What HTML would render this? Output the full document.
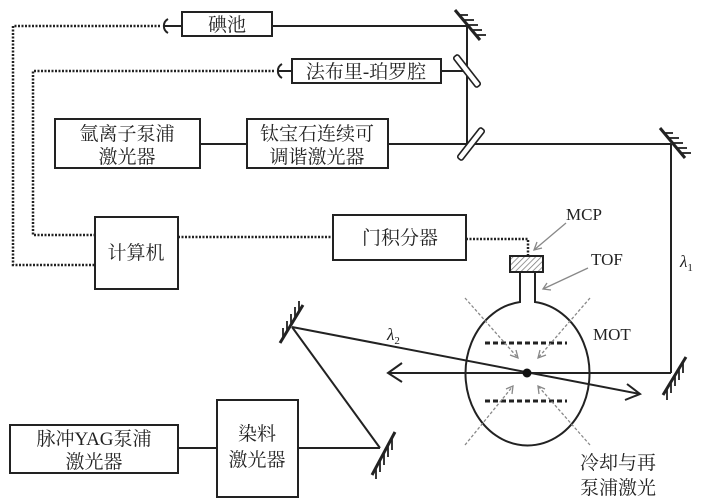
<!DOCTYPE html>
<html><head><meta charset="utf-8"><style>
html,body{margin:0;padding:0;background:#fff;}
svg{display:block;}
text{font-family:"Liberation Serif","Noto Serif CJK SC","Noto Sans CJK SC",serif;fill:#222;}
.c{font-size:19px;}
</style></head><body>
<svg width="707" height="502" viewBox="0 0 707 502" xmlns="http://www.w3.org/2000/svg">
<defs>
<pattern id="h" width="4" height="4" patternUnits="userSpaceOnUse" patternTransform="rotate(45)"><line x1="0" y1="0" x2="0" y2="4" stroke="#777" stroke-width="1.5"/></pattern>
</defs>
<g stroke="#222" stroke-width="2" fill="none">
<!-- dotted -->
<g stroke-dasharray="2,1.5" stroke-width="2.5">
<polyline points="160,26 13,26 13,265 95,265"/>
<polyline points="274,71 33,71 33,235 95,235"/>
<polyline points="178,237 333,237"/>
<polyline points="466,239 528,239 528,256"/>
</g>
<!-- cups -->
<path d="M168,19 A8,8 0 0 0 168,33"/><line x1="164" y1="26" x2="182" y2="26"/>
<path d="M282,64 A8,8 0 0 0 282,78"/><line x1="278" y1="71" x2="292" y2="71"/>
<!-- boxes -->
<rect x="182" y="12" width="90" height="24"/>
<rect x="292" y="59" width="149" height="24"/>
<rect x="55" y="119" width="145" height="49"/>
<rect x="247" y="119" width="141" height="49"/>
<rect x="95" y="217" width="83" height="72"/>
<rect x="333" y="215" width="133" height="45"/>
<rect x="10" y="425" width="168" height="48"/>
<rect x="217" y="400" width="81" height="97"/>
<!-- beams -->
<line x1="272" y1="26" x2="467" y2="26"/>
<line x1="441" y1="71" x2="467" y2="71"/>
<line x1="467" y1="26" x2="467" y2="144"/>
<line x1="200" y1="144" x2="247" y2="144"/>
<line x1="388" y1="144" x2="671" y2="144"/>
<line x1="671" y1="144" x2="671" y2="373"/>
<line x1="178" y1="448" x2="217" y2="448"/>
<line x1="298" y1="448" x2="380" y2="448"/>
<line x1="380" y1="448" x2="292" y2="327"/>
<line x1="292" y1="327" x2="640" y2="394"/>
<polyline points="627,384 640,394 625,400"/>
<line x1="671" y1="373" x2="388" y2="373"/>
<polyline points="402,363 388,373 402,382"/>
<!-- mirrors top -->
<line x1="455" y1="10" x2="480" y2="40" stroke-width="3"/>
<g stroke-width="1.8"><line x1="459" y1="15" x2="468" y2="15"/><line x1="463" y1="20" x2="474" y2="20"/><line x1="467" y1="25" x2="478" y2="25"/><line x1="471" y1="30" x2="482" y2="30"/><line x1="475" y1="35" x2="486" y2="35"/></g>
<line x1="660" y1="128" x2="685" y2="158" stroke-width="3"/>
<g stroke-width="1.8"><line x1="664" y1="133" x2="673" y2="133"/><line x1="668" y1="138" x2="679" y2="138"/><line x1="672" y1="143" x2="683" y2="143"/><line x1="676" y1="148" x2="687" y2="148"/><line x1="680" y1="153" x2="691" y2="153"/></g>
<!-- beam splitters -->
<rect x="-3" y="-19" width="6" height="38" rx="2" transform="translate(467,71) rotate(-38)" fill="#fff" stroke-width="1.6"/>
<rect x="-3" y="-19" width="6" height="38" rx="2" transform="translate(471,144) rotate(38)" fill="#fff" stroke-width="1.6"/>
<!-- lower mirrors -->
<line x1="280" y1="343" x2="303" y2="305" stroke-width="3"/>
<g stroke-width="1.8"><line x1="283" y1="338" x2="283" y2="328"/><line x1="287" y1="332" x2="287" y2="321"/><line x1="291" y1="325" x2="291" y2="314"/><line x1="295" y1="318" x2="295" y2="307"/><line x1="299" y1="312" x2="299" y2="301"/></g>
<line x1="372" y1="475" x2="395" y2="432" stroke-width="3"/>
<g stroke-width="1.8"><line x1="376" y1="468" x2="376" y2="479"/><line x1="380" y1="461" x2="380" y2="472"/><line x1="384" y1="454" x2="384" y2="465"/><line x1="388" y1="446" x2="388" y2="457"/><line x1="392" y1="439" x2="392" y2="450"/></g>
<line x1="663" y1="395" x2="686" y2="357" stroke-width="3"/>
<g stroke-width="1.8"><line x1="667" y1="389" x2="667" y2="400"/><line x1="671" y1="382" x2="671" y2="393"/><line x1="675" y1="375" x2="675" y2="386"/><line x1="679" y1="369" x2="679" y2="380"/><line x1="683" y1="362" x2="683" y2="373"/></g>
<!-- chamber -->
<path d="M520,272 L520,302 A62,72 0 1 0 535,302 L535,272"/>
<rect x="510" y="256" width="33" height="16" fill="url(#h)"/>
<line x1="485" y1="343" x2="567" y2="343" stroke-dasharray="5,3" stroke-width="3"/>
<line x1="485" y1="401" x2="567" y2="401" stroke-dasharray="5,3" stroke-width="3"/>
</g>
<circle cx="527" cy="373" r="4.5" fill="#111"/>
<!-- grey arrows -->
<g stroke="#888" stroke-width="1.3" fill="none">
<line x1="465" y1="298" x2="518" y2="358" stroke-dasharray="3,2"/>
<line x1="590" y1="298" x2="538" y2="358" stroke-dasharray="3,2"/>
<line x1="465" y1="445" x2="513" y2="386" stroke-dasharray="3,2"/>
<line x1="590" y1="445" x2="538" y2="386" stroke-dasharray="3,2"/>
<polyline points="510,355 518,358 516,350"/>
<polyline points="540,350 538,358 546,355"/>
<polyline points="506,389 513,386 512,394"/>
<polyline points="539,394 538,386 545,389"/>
<line x1="566" y1="223" x2="534" y2="250"/><polyline points="537,242 534,250 542,248"/>
<line x1="588" y1="268" x2="543" y2="289"/><polyline points="547,283 543,289 551,290"/>
</g>
<!-- labels -->
<text class="c" x="227" y="31" text-anchor="middle">碘池</text>
<text class="c" x="366" y="78" text-anchor="middle">法布里-珀罗腔</text>
<text class="c" x="127" y="140" text-anchor="middle">氩离子泵浦</text>
<text class="c" x="127" y="163" text-anchor="middle">激光器</text>
<text class="c" x="317" y="140" text-anchor="middle">钛宝石连续可</text>
<text class="c" x="317" y="163" text-anchor="middle">调谐激光器</text>
<text class="c" x="136" y="259" text-anchor="middle">计算机</text>
<text class="c" x="400" y="244" text-anchor="middle">门积分器</text>
<text class="c" x="94" y="445" text-anchor="middle">脉冲YAG泵浦</text>
<text class="c" x="94" y="468" text-anchor="middle">激光器</text>
<text class="c" x="257" y="440" text-anchor="middle">染料</text>
<text class="c" x="257" y="466" text-anchor="middle">激光器</text>
<text x="566" y="220" font-size="17">MCP</text>
<text x="591" y="265" font-size="17">TOF</text>
<text x="593" y="340" font-size="17">MOT</text>
<text x="680" y="267" font-size="17" font-style="italic">λ<tspan font-size="11" font-style="normal" dy="4">1</tspan></text>
<text x="387" y="340" font-size="17" font-style="italic">λ<tspan font-size="11" font-style="normal" dy="4">2</tspan></text>
<text class="c" x="580" y="469">冷却与再</text>
<text class="c" x="580" y="494">泵浦激光</text>
</svg>
</body></html>
